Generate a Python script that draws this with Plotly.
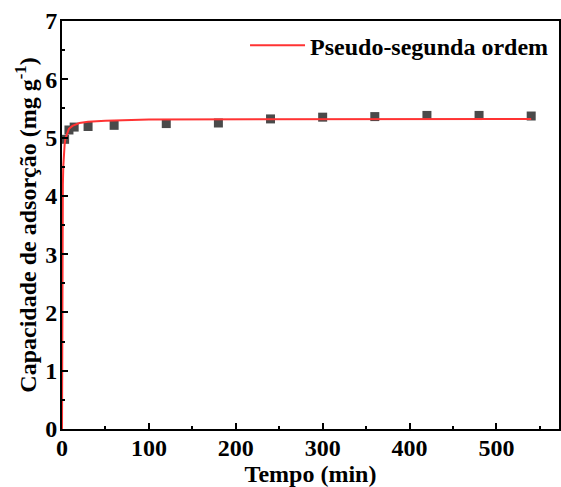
import plotly.graph_objects as go

# Experimental data
t_exp = [3, 8, 14, 30, 60, 120, 180, 240, 300, 360, 420, 480, 540]
q_exp = [4.97, 5.13, 5.18, 5.19, 5.21, 5.24, 5.25, 5.32, 5.35, 5.36, 5.38, 5.38, 5.37]

# Pseudo-second-order fit curve
t_fit = [0, 0.25, 0.5, 1, 1.5, 2, 3, 4, 6, 8, 12, 20, 30, 50, 100, 200, 300, 400, 540]
q_fit = [0, 2.57, 3.46, 4.19, 4.51, 4.69, 4.88, 4.99, 5.09, 5.15, 5.20, 5.25, 5.27, 5.29, 5.31, 5.31, 5.32, 5.32, 5.32]

x_ticks = [0, 100, 200, 300, 400, 500]
y_ticks = [0, 1, 2, 3, 4, 5, 6, 7]

FONT = "Liberation Serif"

fig = go.Figure()
fig.add_trace(go.Scatter(
    x=t_exp, y=q_exp, mode="markers",
    marker=dict(symbol="square", size=9, color="#4a4a4a"),
    showlegend=False))
fig.add_trace(go.Scatter(
    x=t_fit, y=q_fit, mode="lines",
    line=dict(color="#ff3333", width=2),
    name="<b>Pseudo-segunda ordem</b>"))

axis_common = dict(
    showline=True, linecolor="black", linewidth=2, mirror=True,
    ticks="inside", ticklen=6, tickwidth=2, tickcolor="black",
    showgrid=False, zeroline=False, automargin=False,
    tickfont=dict(family=FONT, size=24, color="black"),
)

fig.update_xaxes(
    range=[0, 572], tickvals=x_ticks,
    ticktext=[f"<b>{v}</b>" for v in x_ticks],
    ticklabelstandoff=-4,
    minor=dict(ticks="inside", ticklen=3, tickwidth=2, tickcolor="black", dtick=50, tick0=0),
    title=dict(text="<b>Tempo (min)</b>", font=dict(family=FONT, size=24, color="black"), standoff=0),
    **axis_common)
fig.update_yaxes(
    range=[0, 7], tickvals=y_ticks,
    ticktext=[f"<b>{v}</b>" for v in y_ticks],
    ticklabelstandoff=-2,
    minor=dict(ticks="inside", ticklen=3, tickwidth=2, tickcolor="black", dtick=0.5, tick0=0),
    title=dict(text="<b>Capacidade de adsorção (mg g<sup>-1</sup>)</b>", font=dict(family=FONT, size=24, color="black"), standoff=2),
    **axis_common)

fig.update_layout(
    width=561, height=487,
    margin=dict(l=62, r=2, t=21, b=58),
    plot_bgcolor="white", paper_bgcolor="white",
    legend=dict(x=0.99, y=0.995, xanchor="right", yanchor="top",
                font=dict(family=FONT, size=24, color="black"),
                bgcolor="rgba(0,0,0,0)", itemwidth=55),
)

fig.write_html("out.html")
